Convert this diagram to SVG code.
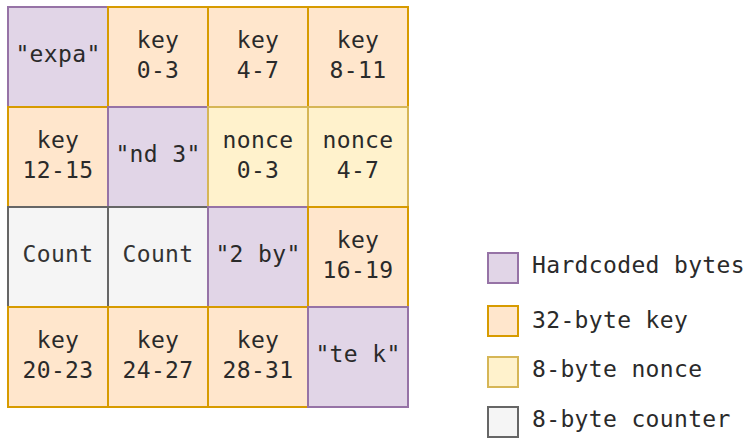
<svg xmlns="http://www.w3.org/2000/svg" width="750" height="438" viewBox="0 0 750 438">
<style>
text{font-family:"DejaVu Sans Mono","Liberation Mono",monospace;font-size:23px;fill:#2a2a2a;letter-spacing:0.35px;}
.c text{text-anchor:middle;}
.p{fill:#e1d5e7;stroke:#9673a6;stroke-width:2;}
.o{fill:#ffe6cc;stroke:#d79b00;stroke-width:2;}
.y{fill:#fff2cc;stroke:#d6b656;stroke-width:2;}
.g{fill:#f5f5f5;stroke:#666666;stroke-width:2;}
.g2 text{fill:#333;}
</style>
<rect width="750" height="438" fill="#ffffff"/>
<g class="c">
<g id="c00"><rect class="p" x="8" y="7" width="100" height="100"/><text x="58" y="62">"expa"</text></g>
<g id="c01"><rect class="o" x="108" y="7" width="100" height="100"/><text x="158" y="48">key</text><text x="158" y="78">0-3</text></g>
<g id="c02"><rect class="o" x="208" y="7" width="100" height="100"/><text x="258" y="48">key</text><text x="258" y="78">4-7</text></g>
<g id="c03"><rect class="o" x="308" y="7" width="100" height="100"/><text x="358" y="48">key</text><text x="358" y="78">8-11</text></g>

<g id="c10"><rect class="o" x="8" y="107" width="100" height="100"/><text x="58" y="148">key</text><text x="58" y="178">12-15</text></g>
<g id="c11"><rect class="p" x="108" y="107" width="100" height="100"/><text x="158" y="162">"nd 3"</text></g>
<g id="c12"><rect class="y" x="208" y="107" width="100" height="100"/><text x="258" y="148">nonce</text><text x="258" y="178">0-3</text></g>
<g id="c13"><rect class="y" x="308" y="107" width="100" height="100"/><text x="358" y="148">nonce</text><text x="358" y="178">4-7</text></g>

<g id="c20" class="g2"><rect class="g" x="8" y="207" width="100" height="100"/><text x="58" y="262">Count</text></g>
<g id="c21" class="g2"><rect class="g" x="108" y="207" width="100" height="100"/><text x="158" y="262">Count</text></g>
<g id="c22"><rect class="p" x="208" y="207" width="100" height="100"/><text x="258" y="262">"2 by"</text></g>
<g id="c23"><rect class="o" x="308" y="207" width="100" height="100"/><text x="358" y="248">key</text><text x="358" y="278">16-19</text></g>

<g id="c30"><rect class="o" x="8" y="307" width="100" height="100"/><text x="58" y="348">key</text><text x="58" y="378">20-23</text></g>
<g id="c31"><rect class="o" x="108" y="307" width="100" height="100"/><text x="158" y="348">key</text><text x="158" y="378">24-27</text></g>
<g id="c32"><rect class="o" x="208" y="307" width="100" height="100"/><text x="258" y="348">key</text><text x="258" y="378">28-31</text></g>
<g id="c33"><rect class="p" x="308" y="307" width="100" height="100"/><text x="358" y="362">"te k"</text></g>
</g>
<g id="connectors"></g>
<g id="legend">
<g id="leg1"><rect class="p" x="488" y="253" width="30" height="30"/><text x="532" y="273">Hardcoded bytes</text></g>
<g id="leg2"><rect class="o" x="488" y="306" width="30" height="30"/><text x="532" y="328">32-byte key</text></g>
<g id="leg3"><rect class="y" x="488" y="357" width="30" height="30"/><text x="532" y="377">8-byte nonce</text></g>
<g id="leg4"><rect class="g" x="488" y="407" width="30" height="30"/><text x="532" y="427">8-byte counter</text></g>
</g>
</svg>
